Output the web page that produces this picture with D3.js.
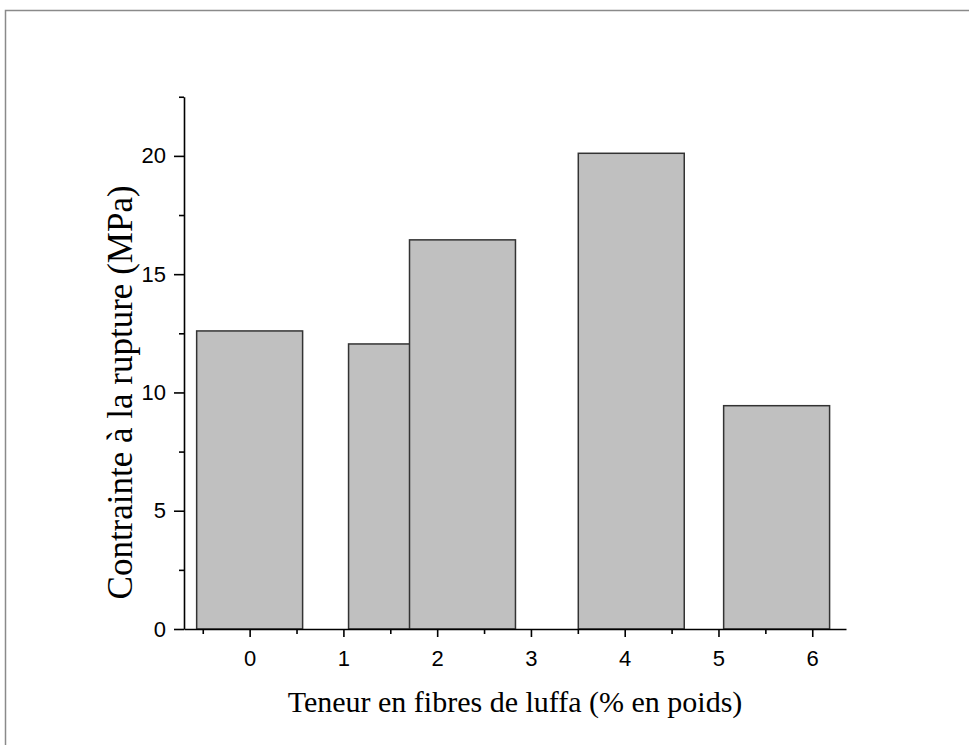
<!DOCTYPE html>
<html>
<head>
<meta charset="utf-8">
<script src="https://cdn.jsdelivr.net/npm/d3@7"></script>
<style>
  body { margin: 0; background: #fff; }
  svg { display: block; }
</style>
</head>
<body>
<div id="chart"></div>
<script>
// fiber content (bar centres, % by weight) and tensile strength at break (MPa)
const fiberContent = [0, 1.62, 2.27, 4.07, 5.62];
const stress = [12.6, 12.05, 16.45, 20.11, 9.44];
const barWidthUnits = 1.13;

const xMajorTicks = [0, 1, 2, 3, 4, 5, 6];
const xMinorTicks = [-0.5, 0.5, 1.5, 2.5, 3.5, 4.5, 5.5];
const yMajorTicks = [0, 5, 10, 15, 20];
const yMinorTicks = [2.5, 7.5, 12.5, 17.5, 22.5];

const width = 969;
const height = 745;

const svg = d3
  .select("#chart")
  .append("svg")
  .attr("width", width)
  .attr("height", height);

// outer frame
svg
  .append("rect")
  .attr("x", 5.5)
  .attr("y", 10.5)
  .attr("width", 970)
  .attr("height", 800)
  .attr("fill", "none")
  .attr("stroke", "#8a8a8a")
  .attr("stroke-width", 1.5);

const xScale = d3.scaleLinear().domain([-0.7, 6.36]).range([184, 846]);
const yScale = d3.scaleLinear().domain([0, 22.5]).range([629, 96.75]);

const data = fiberContent.map((x, i) => ({ x: x, v: stress[i] }));

// bars
svg
  .append("g")
  .selectAll(".bar")
  .data(data)
  .enter()
  .append("rect")
  .attr("class", "bar")
  .attr("x", (d) => xScale(d.x - barWidthUnits / 2))
  .attr("y", (d) => yScale(d.v))
  .attr("width", (d) => xScale(d.x + barWidthUnits / 2) - xScale(d.x - barWidthUnits / 2))
  .attr("height", (d) => yScale(0) - yScale(d.v))
  .attr("fill", "#c0c0c0")
  .attr("stroke", "#333")
  .attr("stroke-width", 1.5);

// x axis: minor ticks, then major ticks with labels
svg
  .append("g")
  .attr("transform", `translate(0,${yScale(0)})`)
  .call(d3.axisBottom(xScale).tickValues(xMinorTicks).tickSize(5).tickSizeOuter(0).tickFormat(""))
  .call((g) => g.select(".domain").remove());

svg
  .append("g")
  .attr("class", "x-axis")
  .attr("transform", `translate(0,${yScale(0)})`)
  .call(
    d3
      .axisBottom(xScale)
      .tickValues(xMajorTicks)
      .tickSize(8)
      .tickSizeOuter(0)
      .tickPadding(13)
      .tickFormat(d3.format("d"))
  );

// y axis: minor ticks, then major ticks with labels
svg
  .append("g")
  .attr("transform", `translate(${xScale(-0.7)},0)`)
  .call(d3.axisLeft(yScale).tickValues(yMinorTicks).tickSize(5).tickSizeOuter(0).tickFormat(""))
  .call((g) => g.select(".domain").remove());

svg
  .append("g")
  .attr("class", "y-axis")
  .attr("transform", `translate(${xScale(-0.7)},0)`)
  .call(
    d3
      .axisLeft(yScale)
      .tickValues(yMajorTicks)
      .tickSize(10)
      .tickSizeOuter(0)
      .tickPadding(8)
      .tickFormat(d3.format("d"))
  );

svg.selectAll(".domain").attr("stroke", "#000").attr("stroke-width", 1.6);
svg.selectAll(".tick line").attr("stroke", "#000").attr("stroke-width", 1.6);

svg
  .selectAll(".tick text")
  .attr("fill", "#000")
  .style("font-family", "'Liberation Sans', Arial, sans-serif")
  .style("font-size", "22px");

// axis titles
svg
  .append("text")
  .attr("x", 515)
  .attr("y", 712)
  .attr("fill", "black")
  .style("font-family", "'Liberation Serif', 'Times New Roman', serif")
  .style("font-size", "30px")
  .style("text-anchor", "middle")
  .text("Teneur en fibres de luffa (% en poids)");

svg
  .append("text")
  .attr("transform", `translate(132,${yScale(10)}) rotate(-90)`)
  .attr("fill", "black")
  .style("font-family", "'Liberation Serif', 'Times New Roman', serif")
  .style("font-size", "35px")
  .style("text-anchor", "middle")
  .text("Contrainte à la rupture (MPa)");
</script>
</body>
</html>
